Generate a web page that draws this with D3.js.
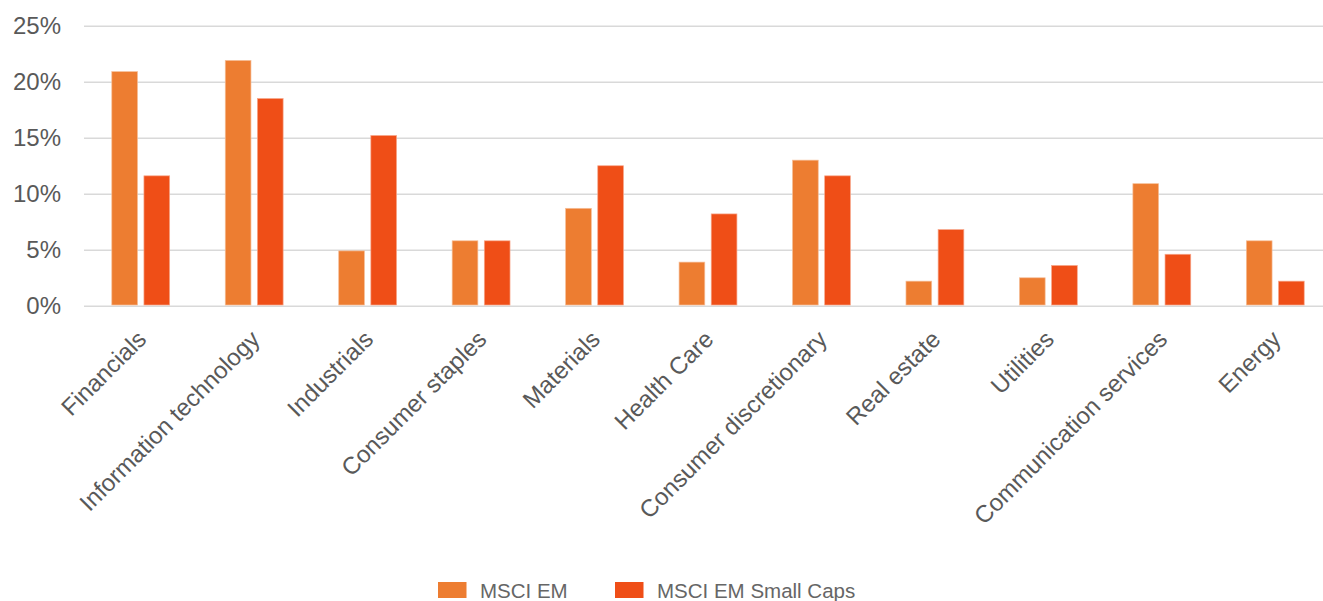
<!DOCTYPE html>
<html><head><meta charset="utf-8">
<script src="https://cdn.jsdelivr.net/npm/d3@7"></script>
<style>
html,body{margin:0;padding:0;background:#fff;}
svg{display:block;font-family:"Liberation Sans",Arial,Helvetica,sans-serif;}
</style></head>
<body>
<svg id="chart" width="1323" height="601"></svg>
<script>
const categories = ["Financials","Information technology","Industrials","Consumer staples","Materials","Health Care","Consumer discretionary","Real estate","Utilities","Communication services","Energy"];
const msciEM = [20.9, 21.9, 4.9, 5.8, 8.7, 3.9, 13.0, 2.2, 2.5, 10.9, 5.8];
const msciEMSmall = [11.6, 18.5, 15.2, 5.8, 12.5, 8.2, 11.6, 6.8, 3.6, 4.6, 2.2];
const seriesNames = ["MSCI EM", "MSCI EM Small Caps"];
const yTicks = [0, 5, 10, 15, 20, 25];

const colors = ["#ED7D31", "#EF4E17"];
const strokes = ["#F6BE98", "#F7A78B"];

const svg = d3.select("#chart");
const x0 = 84, x1 = 1332, yTop = 25.7, yBot = 305.8;

const x = d3.scaleBand().domain(categories).range([x0, x1]).paddingInner(0.49).paddingOuter(0.245);
const xs = d3.scaleBand().domain(seriesNames).range([0, x.bandwidth()]).paddingInner(0.2);
const y = d3.scaleLinear().domain([0, 25]).range([yBot, yTop]);

// gridlines
const yAxis = d3.axisLeft(y).tickValues(yTicks).tickFormat(d => d + "%").tickSize(-(x1 - x0)).tickPadding(23);
const gy = svg.append("g").attr("transform", `translate(${x0},0)`).call(yAxis);
gy.select(".domain").remove();
gy.selectAll(".tick line").attr("stroke", "#d9d9d9").attr("stroke-width", 1.5);
gy.selectAll(".tick text").attr("fill", "#595959").style("font-size", "24px");

// bars
const data = categories.map((c, i) => ({c, vals: [msciEM[i], msciEMSmall[i]]}));
const groups = svg.append("g").selectAll("g").data(data).join("g")
  .attr("transform", d => `translate(${x(d.c)},0)`);
groups.selectAll("rect").data(d => d.vals.map((v, j) => ({v, s: seriesNames[j], j})))
  .join("rect")
  .attr("x", d => xs(d.s))
  .attr("width", xs.bandwidth())
  .attr("y", d => y(d.v))
  .attr("height", d => y(0) - y(d.v) - 0.8)
  .attr("fill", d => colors[d.j])
  .attr("stroke", d => strokes[d.j])
  .attr("stroke-width", 0.7);

// x axis labels
const xAxis = d3.axisBottom(x).tickSize(0).tickPadding(0);
const gx = svg.append("g").attr("transform", `translate(0,${yBot})`).call(xAxis);
gx.select(".domain").remove();
gx.selectAll(".tick text")
  .attr("fill", "#595959")
  .style("font-size", "24px")
  .attr("text-anchor", "end")
  .attr("dy", 0)
  .attr("y", 0)
  .attr("transform", "translate(7,35) rotate(-45)");

// legend
const legend = svg.append("g").attr("transform", "translate(438,582)");
const lItems = legend.selectAll("g").data(seriesNames).join("g")
  .attr("transform", (d, i) => `translate(${i === 0 ? 0 : 177},0)`);
lItems.append("rect").attr("width", 28.5).attr("height", 16).attr("fill", (d, i) => colors[i]);
lItems.append("text").attr("x", 42).attr("y", 15.5).text(d => d)
  .attr("fill", "#666").style("font-size", "20.5px");
</script>
</body></html>
